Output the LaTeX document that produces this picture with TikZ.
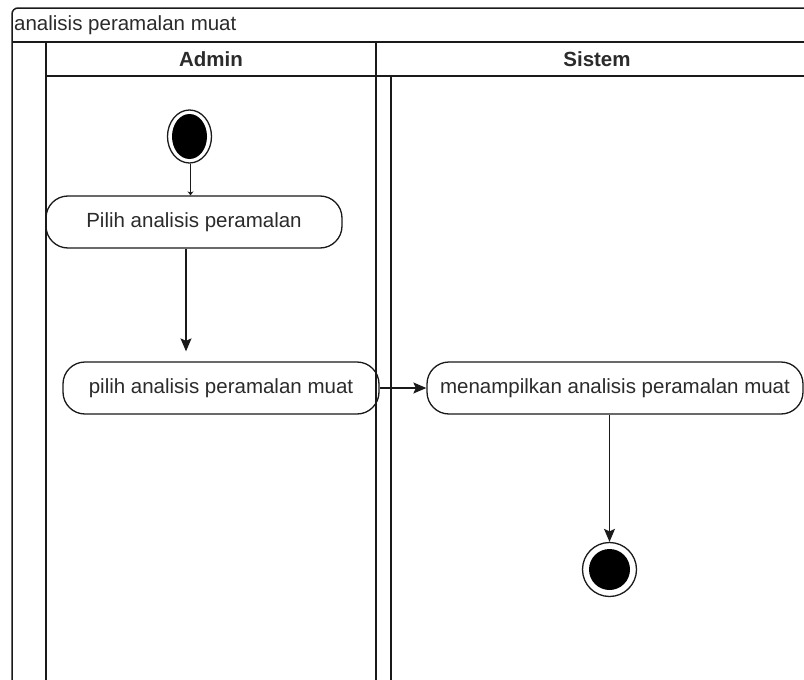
\documentclass[tikz,border=0pt]{standalone}
\usepackage{fontspec}
\setmainfont{Liberation Sans}
\usetikzlibrary{arrows.meta,shapes.geometric}
\definecolor{ink}{HTML}{1A1A1A}
\definecolor{txt}{HTML}{2B2B2B}
\tikzset{
  lane/.style={draw=ink, line width=1.5pt},
  label/.style={text=txt, font=\fontsize{20.5}{24}\selectfont, inner sep=0pt},
  head/.style={label, font=\fontsize{20.5}{24}\selectfont\bfseries},
  action/.style={draw=ink, line width=1.3pt, rectangle, rounded corners=22pt,
    minimum height=52pt, inner sep=0pt, label},
  flow/.style={draw=ink, line width=1.3pt, -{Stealth[length=13pt,width=11pt,inset=2.5pt]}},
  tinyflow/.style={draw=ink, line width=1.3pt, -{Stealth[length=4pt,width=6pt]}}
}
\begin{document}
\begin{tikzpicture}[x=1pt,y=-1pt]
\useasboundingbox (0,0) rectangle (804,680);
\clip (0,0) rectangle (804,680);
\fill[white] (0,0) rectangle (804,680);

% pool frame with title bar
\draw[lane] (12,700) -- (12,14) arc[start angle=180,end angle=270,radius=6] -- (830,8);
\draw[lane] (12,42) -- (830,42);
\draw[lane] (46,42) -- (46,700);
\draw[lane] (46,76) -- (830,76);
\draw[lane] (376,42) -- (376,700);
\draw[lane] (391,76) -- (391,700);

\node[label, anchor=west] (title) at (14,25) {analisis peramalan muat};
\node[head] (admin) at (211,59.5) {Admin};
\node[head] (sistem) at (597,59.5) {Sistem};

% initial node
\node[draw=ink, line width=1.3pt, ellipse, minimum width=44pt, minimum height=53pt, inner sep=0pt] (start) at (189.5,136.5) {};
\fill[black] (start.center) ellipse[x radius=17.5, y radius=22.5];

% actions
\node[action, minimum width=296pt] (act1) at (194,222) {Pilih analisis peramalan};
\node[action, minimum width=316pt] (act2) at (221,388) {pilih analisis peramalan muat};
\node[action, minimum width=376pt] (act3) at (615,388) {menampilkan analisis peramalan muat};

% final node
\node[draw=ink, line width=1.3pt, circle, minimum size=54pt, inner sep=0pt] (fin) at (609.5,569.5) {};
\fill[black] (fin.center) circle[radius=20.5];

% control flows
\draw[tinyflow] ([xshift=1pt]start.south) -- ([xshift=1pt]start.south |- act1.north);
\draw[flow, shorten >=10pt] ([xshift=-8pt]act1.south) -- ([xshift=-8pt]act1.south |- act2.north);
\draw[flow] (act2.east) -- (act3.west);
\draw[flow] (act3.south -| fin.north) -- (fin.north);
\end{tikzpicture}
\end{document}
